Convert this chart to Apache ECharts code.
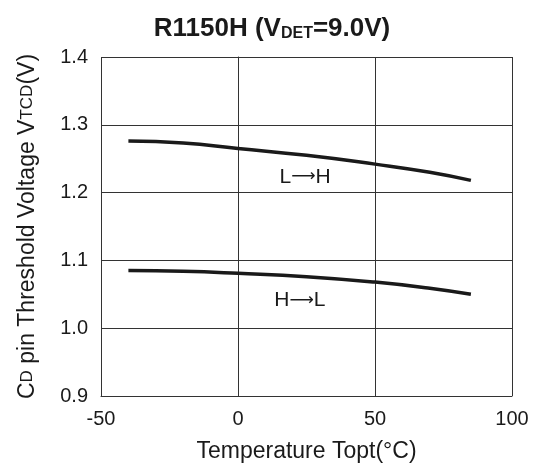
<!DOCTYPE html>
<html><head><meta charset="utf-8">
<script src="https://cdn.jsdelivr.net/npm/echarts@6/dist/echarts.min.js"></script>
<style>html,body{margin:0;padding:0;background:#fff}#c{width:544px;height:471px}</style>
</head><body><div id="c"></div>
<script>
const temps = [-40, -20, 0, 25, 50, 70, 85];
const lowToHigh = [1.276, 1.273, 1.265, 1.255, 1.242, 1.230, 1.218];
const highToLow = [1.085, 1.084, 1.081, 1.076, 1.068, 1.059, 1.050];
const xTicks = [-50, 0, 50, 100];
const yTicks = [0.9, 1.0, 1.1, 1.2, 1.3, 1.4];
const curveLabels = [{from: 'L', to: 'H', coord: [24.5, 1.223]}, {from: 'H', to: 'L', coord: [22.6, 1.041]}];

const font = 'Liberation Sans, Arial, sans-serif';
const chart = echarts.init(document.getElementById('c'), null, {renderer: 'canvas'});
const mk = (xs, ys) => xs.map((x, i) => [x, ys[i]]);
const labelSeries = (xs, ys, lab) => ({
  type: 'line', data: mk(xs, ys), smooth: true, showSymbol: false,
  lineStyle: {color: '#1a1a1a', width: 3.5},
  markPoint: {symbol: 'circle', symbolSize: 0, data: [{coord: lab.coord, value: lab.from + '\u2192' + lab.to}],
    label: {show: true, position: 'inside',
      formatter: '{a|' + lab.from + '}{r|\u27F6}{a|' + lab.to + '}',
      rich: {
        a: {fontFamily: font, fontSize: 21, color: '#1a1a1a'},
        r: {fontFamily: 'DejaVu Sans', fontSize: 17, color: '#1a1a1a'}
      }}}
});
chart.setOption({
  animation: false,
  title: {
    text: '{b|R1150H (V}{s|DET}{b|=9.0V)}',
    left: 'center', top: 11,
    textStyle: {
      rich: {
        b: {fontFamily: font, fontWeight: 'bold', fontSize: 26, color: '#1a1a1a'},
        s: {fontFamily: font, fontWeight: 'bold', fontSize: 16, color: '#1a1a1a', verticalAlign: 'bottom'}
      }
    }
  },
  grid: {left: 101, right: 32, top: 57, bottom: 75},
  xAxis: {
    type: 'value', min: -50, max: 100, interval: 50,
    name: 'Temperature Topt(\u00B0C)', nameLocation: 'middle', nameGap: 44,
    nameTextStyle: {fontFamily: font, fontSize: 23, color: '#1a1a1a'},
    axisLine: {show: true, lineStyle: {color: '#333', width: 1}},
    axisTick: {show: false},
    axisLabel: {fontFamily: font, fontSize: 20, color: '#1a1a1a', margin: 13,
      formatter: v => xTicks.includes(v) ? String(v) : ''},
    splitLine: {show: true, lineStyle: {color: '#333', width: 1}}
  },
  yAxis: {
    type: 'value', min: 0.9, max: 1.4, interval: 0.1,
    name: '{n|C}{s|D}{n| pin Threshold Voltage V}{s|TCD}{n|(V)}', nameLocation: 'middle', nameGap: 62,
    nameTextStyle: {
      rich: {
        n: {fontFamily: font, fontSize: 23, color: '#1a1a1a'},
        s: {fontFamily: font, fontSize: 17, color: '#1a1a1a'}
      }
    },
    axisLine: {show: true, lineStyle: {color: '#333', width: 1}},
    axisTick: {show: false},
    axisLabel: {fontFamily: font, fontSize: 20, color: '#1a1a1a', margin: 13,
      formatter: v => { const t = yTicks.find(y => Math.abs(y - v) < 1e-6); return t !== undefined ? t.toFixed(1) : ''; }},
    splitLine: {show: true, lineStyle: {color: '#333', width: 1}}
  },
  series: [
    labelSeries(temps, lowToHigh, curveLabels[0]),
    labelSeries(temps, highToLow, curveLabels[1])
  ]
});
</script></body></html>
